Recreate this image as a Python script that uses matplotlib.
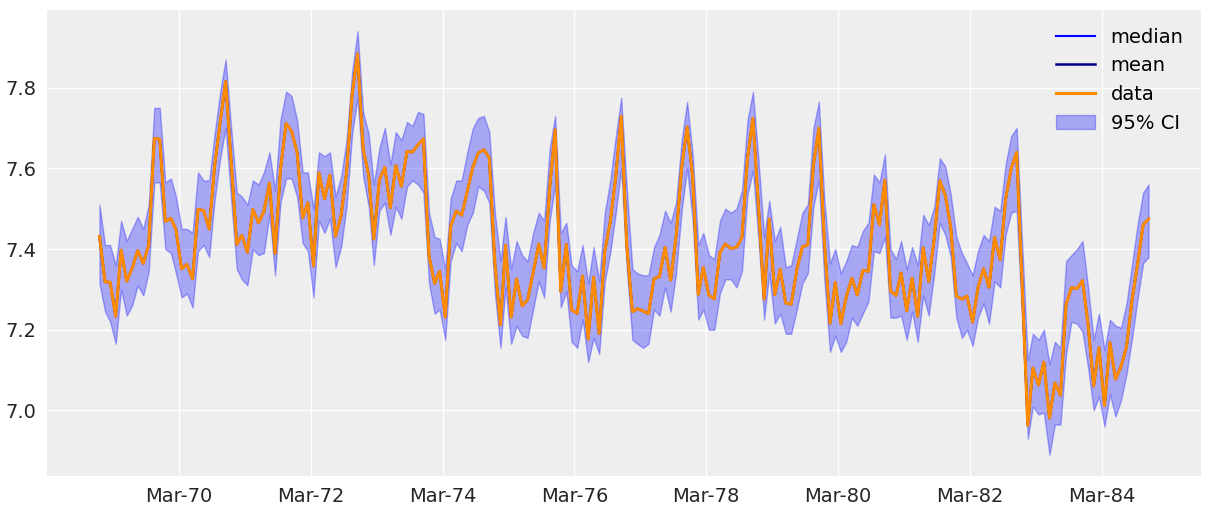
import matplotlib
matplotlib.use("Agg")
import matplotlib.pyplot as plt
import matplotlib.dates as mdates
import numpy as np
import pandas as pd

# monthly driver deaths, Jan 1969 - Dec 1984 (plotted on log scale)
deaths = [
    1687, 1508, 1507, 1385, 1632, 1511, 1559, 1630, 1579, 1653, 2152, 2148,
    1752, 1765, 1717, 1558, 1575, 1520, 1805, 1800, 1719, 2008, 2242, 2478,
    2030, 1655, 1693, 1623, 1805, 1746, 1795, 1926, 1619, 1992, 2233, 2192,
    2080, 1768, 1835, 1569, 1976, 1853, 1965, 1689, 1778, 1976, 2397, 2654,
    2097, 1963, 1677, 1941, 2003, 1813, 2012, 1912, 2084, 2080, 2118, 2150,
    1608, 1503, 1548, 1382, 1731, 1798, 1779, 1887, 2004, 2077, 2092, 2051,
    1577, 1356, 1652, 1382, 1519, 1421, 1442, 1543, 1656, 1561, 1905, 2199,
    1473, 1655, 1407, 1395, 1530, 1309, 1526, 1327, 1627, 1748, 1958, 2274,
    1648, 1401, 1411, 1403, 1394, 1520, 1528, 1643, 1515, 1685, 2000, 2215,
    1956, 1462, 1563, 1459, 1446, 1622, 1657, 1638, 1643, 1683, 2050, 2262,
    1813, 1445, 1762, 1461, 1556, 1431, 1427, 1554, 1645, 1653, 2016, 2207,
    1665, 1361, 1506, 1360, 1453, 1522, 1460, 1552, 1548, 1827, 1737, 1941,
    1474, 1458, 1542, 1404, 1522, 1385, 1641, 1510, 1681, 1938, 1868, 1726,
    1456, 1445, 1456, 1365, 1487, 1558, 1488, 1684, 1594, 1850, 1998, 2079,
    1494, 1057, 1218, 1168, 1236, 1076, 1174, 1139, 1427, 1487, 1483, 1513,
    1357, 1165, 1282, 1110, 1297, 1185, 1222, 1284, 1444, 1575, 1737, 1763,
]

# 95% interval bounds (log scale)
ci_high = [
    7.51, 7.41, 7.41, 7.36, 7.47, 7.42, 7.45, 7.48, 7.45, 7.51, 7.75, 7.75,
    7.565, 7.575, 7.53, 7.45, 7.45, 7.44, 7.59, 7.57, 7.57, 7.685, 7.79, 7.87,
    7.70, 7.54, 7.53, 7.51, 7.57, 7.56, 7.59, 7.64, 7.545, 7.72, 7.79, 7.78,
    7.72, 7.59, 7.59, 7.50, 7.64, 7.63, 7.64, 7.53, 7.58, 7.67, 7.84, 7.94,
    7.74, 7.685, 7.56, 7.65, 7.70, 7.61, 7.69, 7.67, 7.715, 7.705, 7.74, 7.735,
    7.49, 7.43, 7.425, 7.35, 7.525, 7.57, 7.57, 7.64, 7.70, 7.725, 7.73, 7.69,
    7.49, 7.37, 7.48, 7.35, 7.42, 7.385, 7.37, 7.44, 7.49, 7.47, 7.65, 7.73,
    7.44, 7.465, 7.36, 7.345, 7.41, 7.315, 7.405, 7.32, 7.49, 7.57, 7.68, 7.775,
    7.55, 7.35, 7.34, 7.335, 7.335, 7.405, 7.435, 7.495, 7.465, 7.515, 7.67, 7.765,
    7.635, 7.41, 7.44, 7.385, 7.375, 7.47, 7.50, 7.49, 7.50, 7.545, 7.72, 7.79,
    7.62, 7.43, 7.52, 7.42, 7.455, 7.355, 7.36, 7.425, 7.49, 7.51, 7.70, 7.765,
    7.52, 7.365, 7.40, 7.34, 7.37, 7.41, 7.405, 7.445, 7.465, 7.585, 7.565, 7.635,
    7.40, 7.375, 7.42, 7.35, 7.405, 7.36, 7.485, 7.46, 7.505, 7.625, 7.605, 7.535,
    7.43, 7.39, 7.365, 7.335, 7.395, 7.435, 7.42, 7.505, 7.495, 7.61, 7.68, 7.70,
    7.41, 7.125, 7.19, 7.175, 7.20, 7.115, 7.17, 7.155, 7.37, 7.385, 7.40, 7.42,
    7.305, 7.175, 7.24, 7.15, 7.225, 7.21, 7.205, 7.265, 7.365, 7.46, 7.54, 7.56,
]
ci_low = [
    7.315, 7.245, 7.22, 7.165, 7.30, 7.235, 7.26, 7.31, 7.285, 7.345, 7.565, 7.565,
    7.40, 7.39, 7.34, 7.28, 7.29, 7.255, 7.395, 7.41, 7.38, 7.52, 7.625, 7.70,
    7.52, 7.35, 7.325, 7.31, 7.40, 7.385, 7.39, 7.485, 7.335, 7.515, 7.575, 7.575,
    7.53, 7.415, 7.395, 7.28, 7.47, 7.44, 7.475, 7.355, 7.405, 7.505, 7.685, 7.775,
    7.58, 7.505, 7.36, 7.495, 7.515, 7.435, 7.505, 7.475, 7.555, 7.57, 7.56, 7.54,
    7.315, 7.24, 7.25, 7.175, 7.37, 7.415, 7.395, 7.46, 7.49, 7.555, 7.545, 7.515,
    7.29, 7.155, 7.305, 7.165, 7.21, 7.185, 7.18, 7.25, 7.32, 7.28, 7.47, 7.56,
    7.255, 7.295, 7.17, 7.155, 7.225, 7.12, 7.18, 7.14, 7.32, 7.39, 7.49, 7.60,
    7.35, 7.175, 7.165, 7.155, 7.165, 7.25, 7.235, 7.305, 7.245, 7.34, 7.495, 7.60,
    7.47, 7.225, 7.25, 7.20, 7.20, 7.29, 7.325, 7.325, 7.305, 7.345, 7.535, 7.595,
    7.42, 7.225, 7.34, 7.215, 7.24, 7.19, 7.19, 7.25, 7.315, 7.34, 7.505, 7.57,
    7.32, 7.145, 7.185, 7.145, 7.17, 7.23, 7.21, 7.24, 7.27, 7.395, 7.39, 7.43,
    7.23, 7.23, 7.235, 7.175, 7.245, 7.17, 7.285, 7.235, 7.34, 7.465, 7.435, 7.38,
    7.23, 7.18, 7.20, 7.16, 7.23, 7.265, 7.215, 7.32, 7.305, 7.435, 7.49, 7.495,
    7.22, 6.93, 7.01, 6.99, 6.995, 6.89, 6.965, 6.965, 7.14, 7.22, 7.215, 7.195,
    7.105, 7.0, 7.035, 6.96, 7.04, 6.985, 7.025, 7.09, 7.18, 7.275, 7.365, 7.38,
]

tick_years = [1970, 1972, 1974, 1976, 1978, 1980, 1982, 1984]

dates = pd.date_range("1969-01-01", periods=len(deaths), freq="MS")
log_data = np.log(deaths)
# posterior mean / median sit on top of the data in the chart
mean_vals = log_data
median_vals = log_data

plt.rcParams["font.family"] = ["DejaVu Sans"]
fig = plt.figure(figsize=(12.11, 5.11), dpi=100)
ax = fig.add_axes([47 / 1211, 1 - 476 / 511, (1201 - 47) / 1211, (476 - 10) / 511])
ax.set_facecolor("#eeeeee")
for s in ax.spines.values():
    s.set_visible(False)
ax.grid(True, color="white", linewidth=1.0)
ax.set_axisbelow(True)

ax.plot(dates, median_vals, color="b", lw=1.5, label="median")
ax.plot(dates, mean_vals, color="darkblue", lw=1.8, label="mean")
ax.plot(dates, log_data, color="darkorange", lw=2.2, label="data")
ax.fill_between(dates, ci_low, ci_high, color="b", alpha=0.3, label="95% CI")

ticks = [pd.Timestamp(y, 3, 17) for y in tick_years]
ax.set_xticks(ticks)
ax.xaxis.set_major_formatter(mdates.DateFormatter("%b-%y"))
ax.tick_params(length=0, labelsize=14, colors="0.15", pad=8)

ax.legend(loc="upper right", frameon=False, fontsize=14)

fig.savefig("out.png", dpi=100, facecolor="white")
